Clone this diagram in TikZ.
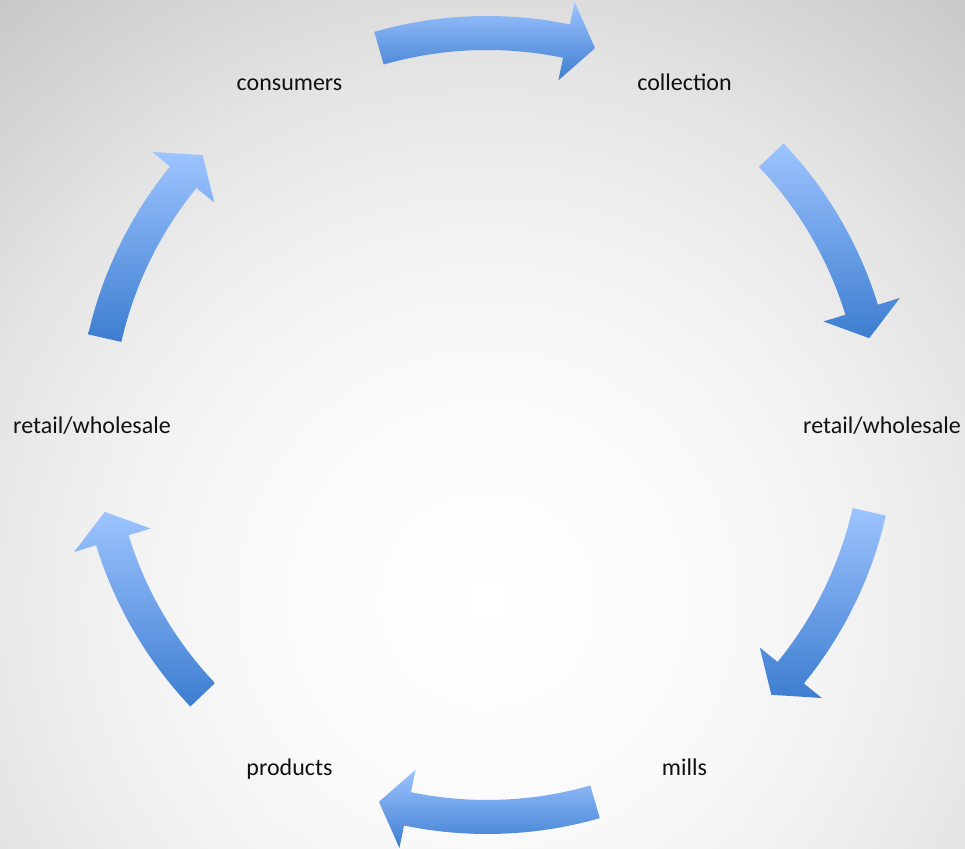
\documentclass[tikz,border=0pt]{standalone}
\usepackage{fontspec}
\setmainfont{Carlito}
\usetikzlibrary{calc}
\definecolor{arrlight}{HTML}{9DC4FF}
\definecolor{arrdark}{HTML}{3D7DD0}
\definecolor{bga}{gray}{0.98}
\definecolor{bgb}{gray}{0.945}
\definecolor{bgc}{gray}{0.894}
\definecolor{bgmid}{gray}{0.784}
\definecolor{bgout}{gray}{0.776}
\definecolor{lbltext}{HTML}{111111}
\pgfdeclareverticalshading{arrshade}{100bp}{color(0bp)=(arrdark); color(25bp)=(arrdark); color(75bp)=(arrlight); color(100bp)=(arrlight)}
\pgfdeclareradialshading{bgshade}{\pgfpoint{0bp}{0bp}}{color(0bp)=(white); color(7bp)=(bga); color(12bp)=(bgb); color(16.8bp)=(bgc); color(24.15bp)=(bgmid); color(25bp)=(bgout); color(50bp)=(bgout)}
% #1 tail angle, #2 head-base angle, #3 tip angle
\newcommand{\cyclearrow}[3]{%
  \shade[shading=arrshade] (#1:409) arc[start angle=#1, end angle=#2, radius=409]
    -- (#2:432) -- (#3:392) -- (#2:352) -- (#2:375)
    arc[start angle=#2, end angle=#1, radius=375] -- cycle;}
\tikzset{lbl/.style={anchor=base, font=\fontsize{18}{22}\selectfont, text=lbltext, inner sep=0pt}}
\begin{document}
\begin{tikzpicture}[x=0.75pt, y=0.75pt]
\useasboundingbox (0,0) rectangle (965,849);
\begin{scope}
  \clip (0,0) rectangle (965,849);
  \shade[shading=bgshade] (-313,-551) rectangle (1287,1049);
\end{scope}
\begin{scope}[shift={(487,424)}]
  \coordinate (O) at (0,0);
  % labels
  \node[lbl] (consumers)  at ($(120:395)+(0,-8)$) {consumers};
  \node[lbl] (collection) at ($(60:395)+(0,-8)$)  {collection};
  \node[lbl] (retailR)    at ($(0:395)+(0,-9)$)   {retail/wholesale};
  \node[lbl] (mills)      at ($(-60:395)+(0,-8)$) {mills};
  \node[lbl] (products)   at ($(-120:395)+(0,-8)$){products};
  \node[lbl] (retailL)    at ($(180:395)+(0,-9)$) {retail/wholesale};
  % arrows
  \cyclearrow{106}{78.3}{74}
  \cyclearrow{43.5}{17.1}{12.8}
  \cyclearrow{-12.8}{-39.2}{-43.5}
  \cyclearrow{-74}{-101.7}{-106}
  \cyclearrow{223.5}{197.1}{192.8}
  \cyclearrow{167.2}{140.8}{136.5}
\end{scope}
\end{tikzpicture}
\end{document}
